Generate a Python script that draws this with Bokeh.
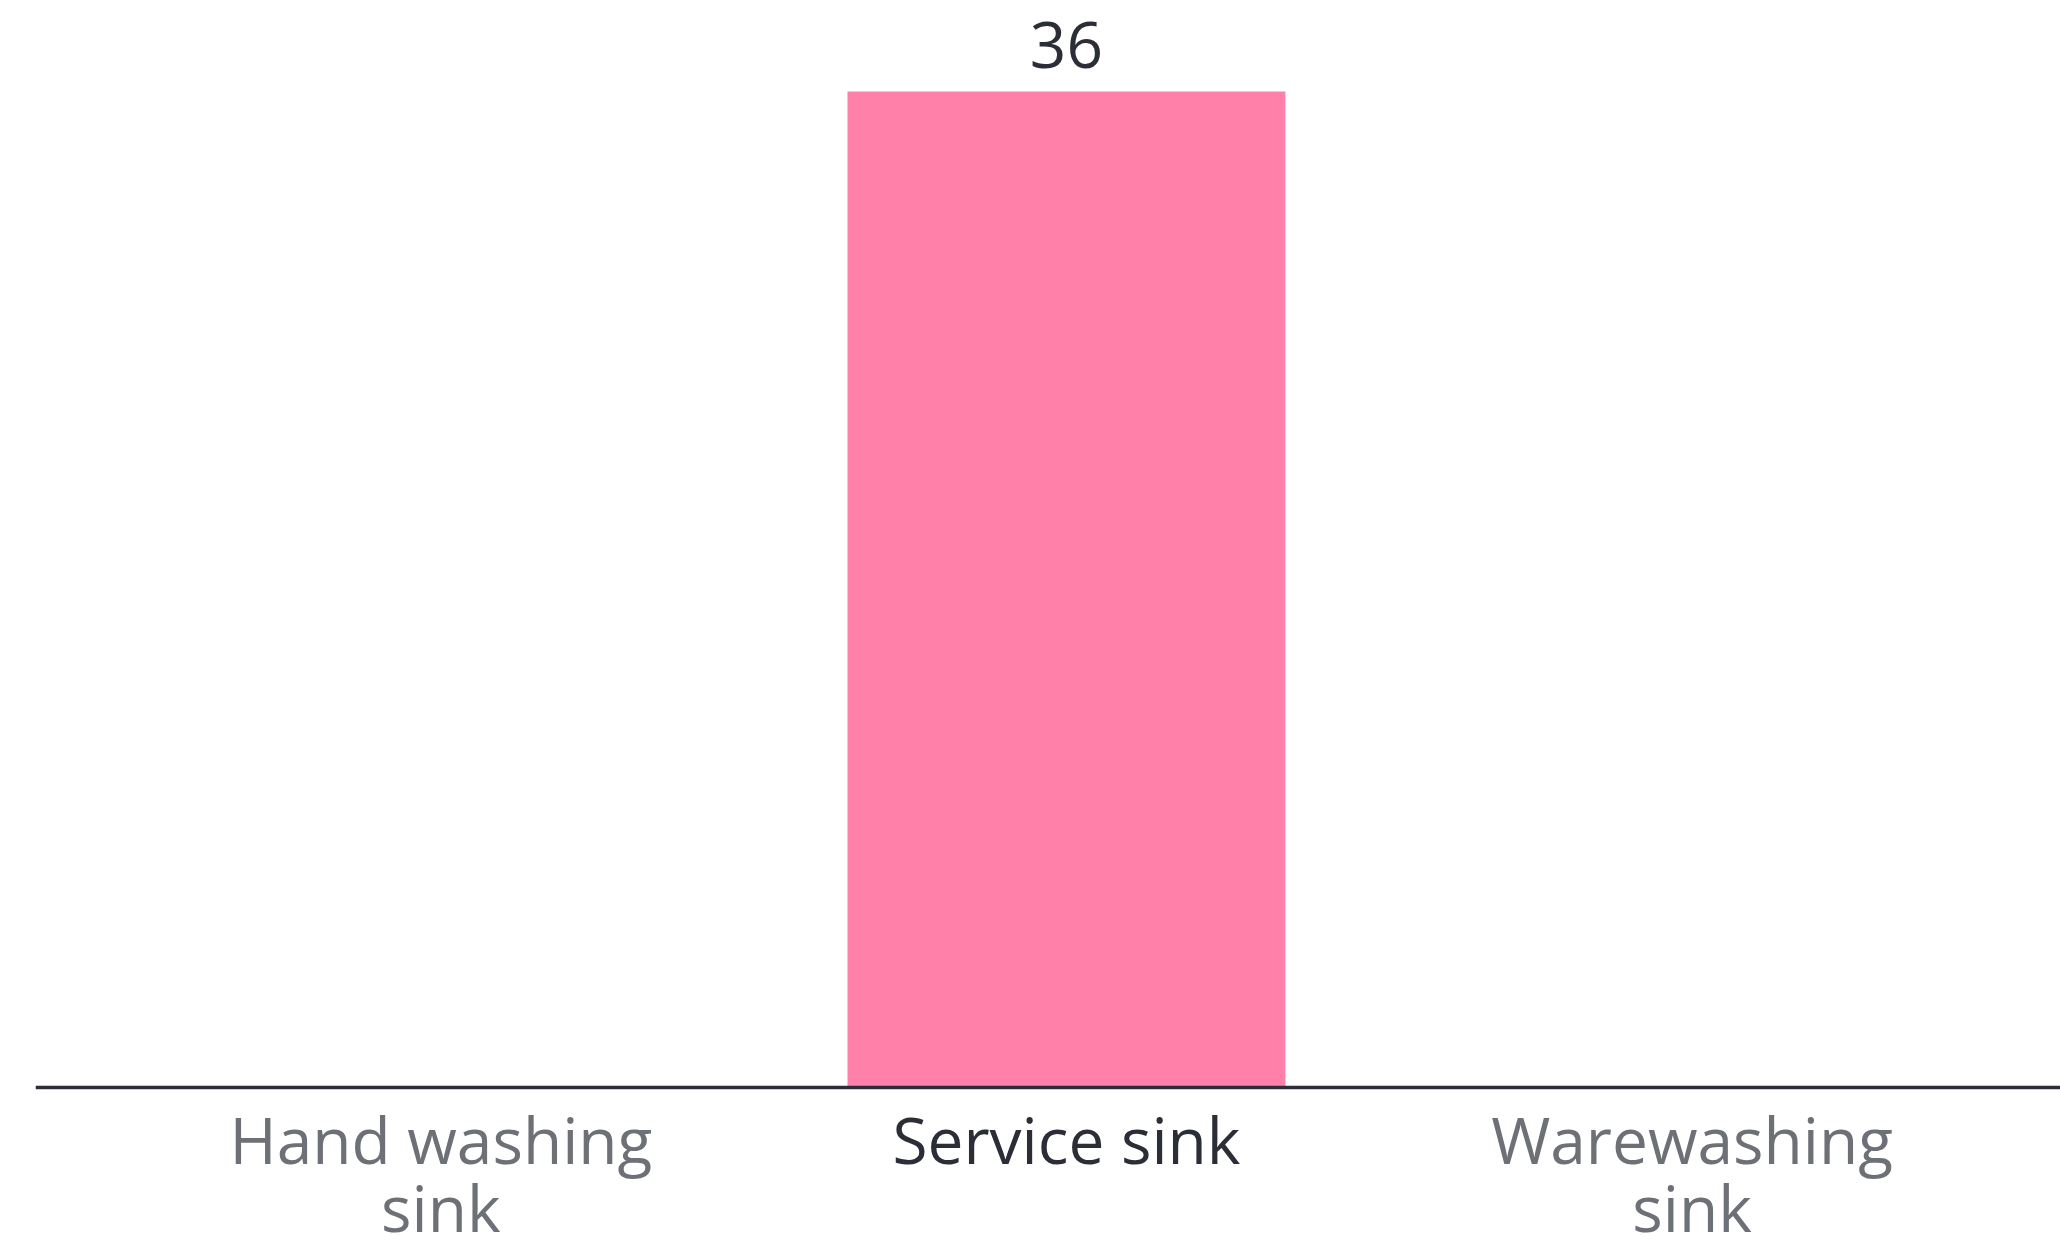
from bokeh.plotting import figure
from bokeh.models import Range1d, Span, ColumnDataSource
from bokeh.core.properties import value
from bokeh.embed import file_html
from bokeh.resources import INLINE

categories = ["Hand washing sink", "Service sink", "Warewashing sink"]
values = [0, 36, 0]
label_colors = ["#6d7076", "#2b2e36", "#6d7076"]
label_line1 = ["Hand washing", "Service sink", "Warewashing"]
label_line2 = ["sink", "", "sink"]

xs = list(range(len(categories)))

p = figure(width=2060, height=1250, output_backend="svg", toolbar_location=None,
           x_range=Range1d(-0.648, 2.589), y_range=Range1d(-5.89, 39.29),
           min_border_left=35, min_border_right=0, min_border_top=0, min_border_bottom=0)
p.axis.visible = False
p.grid.visible = False
p.outline_line_color = None
p.background_fill_color = "white"
p.border_fill_color = "white"

bars = ColumnDataSource(dict(x=[x for x, v in zip(xs, values) if v > 0],
                             top=[v for v in values if v > 0],
                             lab=[str(v) for v in values if v > 0]))
p.vbar(x="x", top="top", bottom=0, width=0.70, source=bars,
       fill_color="#ff80a9", line_color=None)

p.text(x="x", y="top", text="lab", source=bars, y_offset=-24,
       text_align="center", text_baseline="bottom",
       text_font=value("Open Sans"), text_font_size="64px", text_color="#2b2e36")

p.add_layout(Span(location=0, dimension="width", line_color="#2b2e36", line_width=3.5))

line2_idx = [i for i, t in enumerate(label_line2) if t]
labs = ColumnDataSource(dict(x=xs, y=[0] * len(xs), t1=label_line1, c=label_colors))
labs2 = ColumnDataSource(dict(x=[xs[i] for i in line2_idx], y=[0] * len(line2_idx),
                              t2=[label_line2[i] for i in line2_idx],
                              c=[label_colors[i] for i in line2_idx]))
p.text(x="x", y="y", text="t1", source=labs, y_offset=52,
       text_align="center", text_baseline="alphabetic",
       text_font=value("Open Sans"), text_font_size="64px", text_color="c")
p.text(x="x", y="y", text="t2", source=labs2, y_offset=120,
       text_align="center", text_baseline="alphabetic",
       text_font=value("Open Sans"), text_font_size="64px", text_color="c")

open("out.html", "w").write(file_html(p, INLINE))
